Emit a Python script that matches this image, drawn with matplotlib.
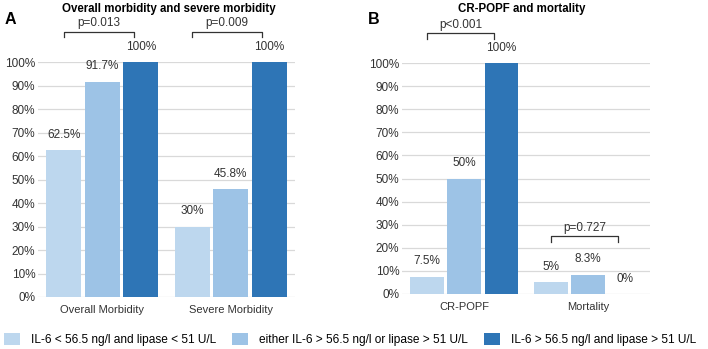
import matplotlib.pyplot as plt
from matplotlib.patches import Patch
import numpy as np

plt.rcParams['font.family'] = ['Liberation Sans', 'DejaVu Sans']

# data
groups = ['IL-6 < 56.5 ng/l and lipase < 51 U/L',
          'either IL-6 > 56.5 ng/l or lipase > 51 U/L',
          'IL-6 > 56.5 ng/l and lipase > 51 U/L']
colors = ['#BDD7EE', '#9DC3E6', '#2E75B6']

cats_a = ['Overall Morbidity', 'Severe Morbidity']
vals_a = [[62.5, 30], [91.7, 45.8], [100, 100]]
labels_a = [['62.5%', '30%'], ['91.7%', '45.8%'], ['100%', '100%']]

cats_b = ['CR-POPF', 'Mortality']
vals_b = [[7.5, 5], [50, 8.3], [100, 0]]
labels_b = [['7.5%', '5%'], ['50%', '8.3%'], ['100%', '0%']]

# brackets: (category, first bar, last bar, height, text)
pvals_a = [(0, 0, 2, 113, 'p=0.013'), (1, 0, 2, 113, 'p=0.009')]
pvals_b = [(0, 0, 2, 113, 'p<0.001'), (1, 0, 2, 25, 'p=0.727')]

fig = plt.figure(figsize=(7.08, 3.49), dpi=100)
ax_a = fig.add_axes([0.0537, 0.149, 0.363, 0.673])
ax_b = fig.add_axes([0.568, 0.158, 0.350, 0.661])

width = 0.27
step = 0.30


def draw_panel(ax, cats, vals, labels, pvals, title, title_x):
    x = np.arange(len(cats))
    for i in range(3):
        xs = x + (i - 1) * step
        ax.bar(xs, vals[i], width=width, color=colors[i], zorder=2)
        for xi, v, lab in zip(xs, vals[i], labels[i]):
            ax.text(xi, v + 4, lab, ha='center', va='bottom', fontsize=8.5,
                    color='#333333', clip_on=False)
    for c, b0, b1, h, txt in pvals:
        x0 = c + (b0 - 1) * step
        x1 = c + (b1 - 1) * step - 0.055
        ax.plot([x0, x0, x1, x1], [h - 2.5, h, h, h - 2.5], color='#333333',
                lw=0.9, clip_on=False)
        ax.text((x0 + x1) / 2, h + 1, txt, ha='center', va='bottom',
                fontsize=8.5, color='#333333', clip_on=False)
    ax.set_xlim(-0.5, len(cats) - 0.5)
    ax.set_ylim(0, 100)
    ax.set_yticks(range(0, 101, 10))
    ax.set_yticklabels([f'{t}%' for t in range(0, 101, 10)], fontsize=8.5,
                       color='#333333')
    ax.set_xticks(x)
    ax.set_xticklabels(cats, fontsize=8, color='#333333')
    ax.tick_params(length=0, pad=6)
    ax.tick_params(axis='y', pad=2)
    for s in ax.spines.values():
        s.set_visible(False)
    ax.yaxis.grid(True, color='#D9D9D9', lw=0.9, zorder=0)
    ax.set_axisbelow(True)
    fig.text(title_x, 0.99, title, ha='center', va='top', fontsize=8.3,
             fontweight='bold')
    return ax


draw_panel(ax_a, cats_a, vals_a, labels_a, pvals_a,
           'Overall morbidity and severe morbidity', 0.239)
draw_panel(ax_b, cats_b, vals_b, labels_b, pvals_b,
           'CR-POPF and mortality', 0.737)

fig.text(0.006, 0.965, 'A', fontsize=11.5, fontweight='bold', va='top')
fig.text(0.519, 0.965, 'B', fontsize=11.5, fontweight='bold', va='top')

handles = [Patch(facecolor=c, edgecolor='none') for c in colors]
fig.legend(handles, groups, loc='center left', bbox_to_anchor=(0.0, 0.028),
           ncol=3, frameon=False, fontsize=8.6, handlelength=1.35,
           handleheight=1.15, handletextpad=0.95, columnspacing=1.3,
           borderaxespad=0, borderpad=0.3)

fig.savefig('out.png', dpi=100)
